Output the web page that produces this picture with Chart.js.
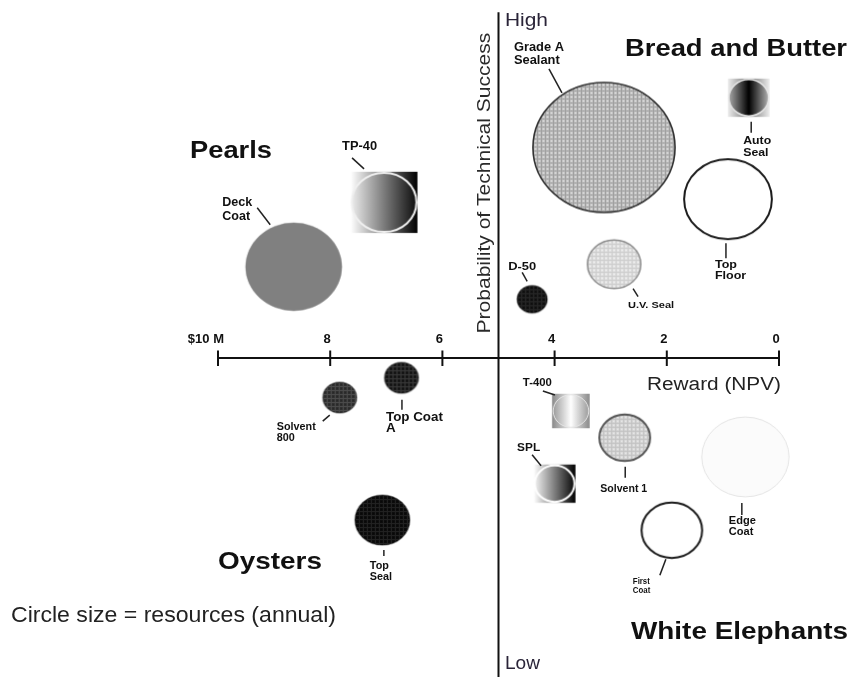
<!DOCTYPE html>
<html><head><meta charset="utf-8">
<script src="https://cdn.jsdelivr.net/npm/chart.js@4.4.0/dist/chart.umd.min.js"></script>
<style>html,body{margin:0;padding:0;background:#fff;}#wrap{width:852px;height:677px;position:relative;}</style>
</head><body><div id="wrap"><canvas id="c" width="852" height="677"></canvas></div>
<script>
// ---------------- DATA ----------------
const products = ["Grade A Sealant","Auto Seal","Top Floor","U.V. Seal","D-50","Deck Coat","TP-40","Solvent 800","Top Coat A","Top Seal","T-400","Solvent 1","SPL","Edge Coat","First Coat"];
const rewardNPV = [3.12,0.54,0.91,2.94,4.40,8.65,7.04,7.83,6.73,7.07,3.71,2.75,4.00,0.60,1.91];
const probSuccess = [8.30,9.08,7.49,6.47,5.92,6.43,7.44,4.38,4.69,2.46,4.17,3.75,3.03,3.45,2.30];
const resources = [68,19,42,25.5,14.5,46,31,16.3,16.3,26.3,17,24.3,19,41.8,29];
const xTickValues = [10,8,6,4,2,0];
const xTickLabels = ["$10 M","8","6","4","2","0"];
const quadrantNames = ["Bread and Butter","Pearls","Oysters","White Elephants"];
const xAxisTitle = "Reward (NPV)";
const yAxisTitle = "Probability of Technical Success";
const yHighLabel = "High", yLowLabel = "Low";
const sizeNote = "Circle size = resources (annual)";

// ---------------- STYLE / LAYOUT ----------------
const FONT = '"Liberation Sans", Arial, Helvetica, sans-serif';
const CROSS_X = 5, CROSS_Y = 5, Y_AXIS_TOP = 10.42;
const ASPECT_X = 1.045, ASPECT_Y = 0.955;

const bubbleStyle = {
 "Grade A Sealant": {pattern:["#c4c4c4","#a0a0a0","#e4e4e4"], stroke:"#333", lw:1.6},
 "Auto Seal": {square:["#ededed","#707070","#ededed"], grad:["#a8a8a8","#000000","#b0b0b0"], stroke:"#e4e4e4", lw:1.5},
 "Top Floor": {fill:"#ffffff", stroke:"#1c1c1c", lw:2},
 "U.V. Seal": {pattern:["#e3e3e3","#cdcdcd","#f6f6f6"], stroke:"#8c8c8c", lw:1.5},
 "D-50": {pattern:["#151515","#272727","#0a0a0a"], stroke:"rgba(0,0,0,0.35)", lw:1.5},
 "Deck Coat": {fill:"#808080", stroke:"rgba(128,128,128,0.5)", lw:1},
 "TP-40": {square:["#ffffff","#000000"], grad:["#ececec","#7c7c7c","#0e0e0e"], stroke:"#f0f0f0", lw:2},
 "Solvent 800": {pattern:["#2f2f2f","#4c4c4c","#262626"], stroke:"rgba(40,40,40,0.4)", lw:1.5},
 "Top Coat A": {pattern:["#171717","#3a3a3a","#111111"], stroke:"rgba(20,20,20,0.4)", lw:1.5},
 "Top Seal": {pattern:["#0c0c0c","#232323","#080808"], stroke:"rgba(10,10,10,0.4)", lw:1.5},
 "T-400": {square:["#8a8a8a","#f0f0f0","#8a8a8a"], grad:["#9c9c9c","#ffffff","#9c9c9c"], stroke:"#e6e6e6", lw:1},
 "Solvent 1": {pattern:["#d9d9d9","#c2c2c2","#efefef"], stroke:"#555555", lw:2},
 "SPL": {square:["#ffffff","#000000"], grad:["#f2f2f2","#0a0a0a"], stroke:"#ffffff", lw:2},
 "Edge Coat": {fill:"#fbfbfb", stroke:"#e4e4e4", lw:1},
 "First Coat": {fill:"#ffffff", stroke:"#1c1c1c", lw:2}
};

// label text (lines), font size, line height, first-line width, text offset and leader line offsets (px, relative to bubble centre)
const labelLayout = {
 "Grade A Sealant": {lines:["Grade A","Sealant"], size:12, lh:13, w:50, dx:-90, dy:-105.5, l:[-55,-78.5,-42,-54.5]},
 "Auto Seal": {lines:["Auto","Seal"], size:11, lh:12, w:28, dx:-5.5, dy:38, l:[2.5,24,2.5,35]},
 "Top Floor": {lines:["Top","Floor"], size:11, lh:10.5, w:22, dx:-13, dy:61, l:[-2,44,-2,59]},
 "U.V. Seal": {lines:["U.V. Seal"], size:9, lh:10, w:46, dx:14, dy:37.5, l:[19,24.5,24,32.5]},
 "D-50": {lines:["D-50"], size:10.5, lh:10, w:28, dx:-24, dy:-37, l:[-10,-27,-5,-18]},
 "Deck Coat": {lines:["Deck","Coat"], size:12, lh:14, w:30, dx:-71.5, dy:-69, l:[-36.5,-59,-23.5,-42]},
 "TP-40": {lines:["TP-40"], size:12, lh:12, w:35, dx:-42, dy:-60.5, l:[-32,-44.5,-20,-33.5]},
 "Solvent 800": {lines:["Solvent","800"], size:10, lh:11, w:39, dx:-63, dy:25.5, l:[-10,17.5,-17,23.5]},
 "Top Coat A": {lines:["Top Coat","A"], size:12.5, lh:11, w:57, dx:-15.5, dy:34, l:[0.5,22,0.5,32]},
 "Top Seal": {lines:["Top","Seal"], size:10, lh:10.5, w:19, dx:-12.5, dy:42, l:[1.5,30,1.5,36]},
 "T-400": {lines:["T-400"], size:10, lh:10, w:29, dx:-48, dy:-32, l:[-28,-20,-16,-16]},
 "SPL": {lines:["SPL"], size:10, lh:10, w:23, dx:-37.5, dy:-40, l:[-22.5,-29,-13.5,-18]},
 "Solvent 1": {lines:["Solvent 1"], size:10.5, lh:10, w:47, dx:-24.5, dy:47, l:[0.5,29,0.5,40]},
 "Edge Coat": {lines:["Edge","Coat"], size:10, lh:11, w:27, dx:-16.5, dy:60, l:[-3.5,46,-3.5,58]},
 "First Coat": {lines:["First","Coat"], size:9, lh:9.5, w:17, dx:-39, dy:47, l:[-6,29,-12,45]}
};

const annotations = [
 {text:quadrantNames[0], x:625, y:56, w:222, font:'bold 24px '+FONT},
 {text:quadrantNames[1], x:190, y:158, w:82, font:'bold 24px '+FONT},
 {text:quadrantNames[2], x:218, y:569, w:104, font:'bold 24px '+FONT},
 {text:quadrantNames[3], x:631, y:639, w:217, font:'bold 24px '+FONT},
 {text:sizeNote, x:11, y:622, w:325, font:'22px '+FONT, color:'#222'},
 {text:yHighLabel, x:505, y:26, w:43, font:'18px '+FONT, color:'#2a2438'},
 {text:yLowLabel, x:505, y:669, w:35, font:'18px '+FONT, color:'#2a2438'},
 {text:xAxisTitle, x:647, y:390, w:134, font:'18px '+FONT, color:'#222'}
];

// ---------------- BUBBLE IMAGES ----------------
function tile(cols){
  const t=document.createElement('canvas'); t.width=4; t.height=4;
  const c=t.getContext('2d');
  c.fillStyle=cols[0]; c.fillRect(0,0,4,4);
  c.fillStyle=cols[1]; c.fillRect(0,0,1,4); c.fillRect(0,0,4,1);
  c.fillStyle=cols[2]; c.fillRect(2,2,1,1);
  return t;
}
function gradient(c, x0, x1, stops){
  const g=c.createLinearGradient(x0,0,x1,0);
  stops.forEach((col,i,a)=>g.addColorStop(a.length>1?i/(a.length-1):0,col));
  return g;
}
function makeBubbleImage(r, st){
  const rx=r*ASPECT_X, ry=r*ASPECT_Y;
  const w=Math.round(2*rx+8), h=Math.round(2*ry+8);
  const cv=document.createElement('canvas'); cv.width=w; cv.height=h;
  const c=cv.getContext('2d'); const cx=w/2, cy=h/2;
  if(st.square){
    c.fillStyle=gradient(c,cx-rx-1,cx+rx+1,st.square);
    c.fillRect(cx-rx-1,cy-ry-1,2*rx+2,2*ry+2);
  }
  c.beginPath(); c.ellipse(cx,cy,rx,ry,0,0,Math.PI*2);
  if(st.grad) c.fillStyle=gradient(c,cx-rx,cx+rx,st.grad);
  else if(st.pattern) c.fillStyle=c.createPattern(tile(st.pattern),'repeat');
  else c.fillStyle=st.fill;
  c.fill();
  if(st.lw){ c.lineWidth=st.lw; c.strokeStyle=st.stroke; c.stroke(); }
  return cv;
}
const bubbleImages = products.map((p,i)=>makeBubbleImage(resources[i], bubbleStyle[p]));

// ---------------- DRAW HELPERS ----------------
function fitText(ctx, text, x, y, w, font, color){
  ctx.save();
  ctx.font=font; ctx.fillStyle=color||'#111'; ctx.textAlign='left'; ctx.textBaseline='alphabetic';
  const m=ctx.measureText(text).width;
  ctx.translate(x,y); ctx.scale(w/m,1); ctx.fillText(text,0,0);
  ctx.restore();
}
function seg(ctx,x0,y0,x1,y1){ctx.beginPath();ctx.moveTo(x0,y0);ctx.lineTo(x1,y1);ctx.stroke();}

const matrixPlugin = {
  id:'matrix',
  beforeDatasetsDraw(chart){
    const ctx=chart.ctx, xs=chart.scales.x, ys=chart.scales.y;
    const ax=xs.getPixelForValue(CROSS_X), ay=ys.getPixelForValue(CROSS_Y);
    ctx.save();
    ctx.strokeStyle='#111'; ctx.lineWidth=2; ctx.lineCap='butt';
    seg(ctx, xs.getPixelForValue(xTickValues[0]), ay, xs.getPixelForValue(xTickValues[xTickValues.length-1]), ay);
    xTickValues.forEach((v,i)=>{
      const px=xs.getPixelForValue(v);
      seg(ctx,px,ay-7.5,px,ay+8);
      ctx.font='bold 13px '+FONT; ctx.fillStyle='#111'; ctx.textBaseline='alphabetic';
      if(i===0){ ctx.textAlign='right'; ctx.fillText(xTickLabels[i], px+6, ay-15); }
      else { ctx.textAlign='center'; ctx.fillText(xTickLabels[i], px-3, ay-15); }
    });
    seg(ctx, ax, ys.getPixelForValue(Y_AXIS_TOP), ax, chart.height);
    ctx.restore();
    // y-axis title
    ctx.save();
    ctx.font='19px '+FONT; ctx.fillStyle='#2a2a2a';
    const topPx=ys.getPixelForValue(Y_AXIS_TOP);
    const m=ctx.measureText(yAxisTitle).width;
    ctx.translate(ax-9, (topPx+ay)/2 - 2); ctx.rotate(-Math.PI/2);
    ctx.scale(301/m,1); ctx.textAlign='center'; ctx.fillText(yAxisTitle,0,0);
    ctx.restore();
    annotations.forEach(a=>fitText(ctx,a.text,a.x,a.y,a.w,a.font,a.color));
  },
  afterDatasetsDraw(chart){
    const ctx=chart.ctx; const meta=chart.getDatasetMeta(0);
    meta.data.forEach((el,i)=>{
      const L=labelLayout[products[i]]; if(!L) return;
      const cx=el.x, cy=el.y;
      ctx.save();
      ctx.strokeStyle='#222'; ctx.lineWidth=1.5;
      seg(ctx,cx+L.l[0],cy+L.l[1],cx+L.l[2],cy+L.l[3]);
      const font='bold '+L.size+'px '+FONT;
      ctx.font=font;
      const s=L.w/ctx.measureText(L.lines[0]).width;
      ctx.fillStyle='#111';
      L.lines.forEach((t,k)=>{
        ctx.save();
        ctx.translate(cx+L.dx, cy+L.dy+0.716*L.size+k*L.lh);
        ctx.scale(s,1); ctx.fillText(t,0,0);
        ctx.restore();
      });
      ctx.restore();
    });
  }
};

new Chart(document.getElementById('c'), {
  type:'bubble',
  data:{ labels:products, datasets:[{
    label:'Products',
    data:products.map((p,i)=>({x:rewardNPV[i], y:probSuccess[i], r:resources[i]})),
    pointStyle:bubbleImages,
    backgroundColor:'rgba(0,0,0,0)', borderWidth:0, clip:false
  }]},
  options:{
    responsive:false, animation:false, events:[],
    layout:{autoPadding:false, padding:{left:218,right:73,top:39,bottom:0}},
    plugins:{legend:{display:false}, tooltip:{enabled:false}},
    scales:{
      x:{type:'linear', min:0, max:10, reverse:true, display:false},
      y:{type:'linear', min:0, max:10, display:false}
    }
  },
  plugins:[matrixPlugin]
});
</script></body></html>
